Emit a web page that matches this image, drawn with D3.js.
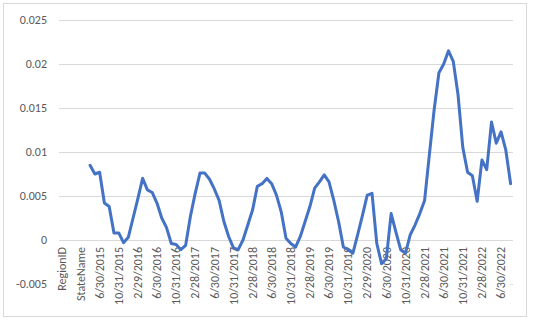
<!DOCTYPE html>
<html><head><meta charset="utf-8">
<script src="https://cdn.jsdelivr.net/npm/d3@7"></script>
<style>html,body{margin:0;padding:0;background:#fff;}svg{display:block;}</style>
</head><body>
<svg id="chart" width="534" height="325"></svg>
<script>
// Categories: header columns followed by month-end dates
const headerCats = ["RegionID", "SizeRank", "RegionName", "RegionType", "StateName"];
const dateCats = [
  "3/31/2015","4/30/2015","5/31/2015","6/30/2015","7/31/2015","8/31/2015","9/30/2015","10/31/2015","11/30/2015","12/31/2015",
  "1/31/2016","2/29/2016","3/31/2016","4/30/2016","5/31/2016","6/30/2016","7/31/2016","8/31/2016","9/30/2016","10/31/2016","11/30/2016","12/31/2016",
  "1/31/2017","2/28/2017","3/31/2017","4/30/2017","5/31/2017","6/30/2017","7/31/2017","8/31/2017","9/30/2017","10/31/2017","11/30/2017","12/31/2017",
  "1/31/2018","2/28/2018","3/31/2018","4/30/2018","5/31/2018","6/30/2018","7/31/2018","8/31/2018","9/30/2018","10/31/2018","11/30/2018","12/31/2018",
  "1/31/2019","2/28/2019","3/31/2019","4/30/2019","5/31/2019","6/30/2019","7/31/2019","8/31/2019","9/30/2019","10/31/2019","11/30/2019","12/31/2019",
  "1/31/2020","2/29/2020","3/31/2020","4/30/2020","5/31/2020","6/30/2020","7/31/2020","8/31/2020","9/30/2020","10/31/2020","11/30/2020","12/31/2020",
  "1/31/2021","2/28/2021","3/31/2021","4/30/2021","5/31/2021","6/30/2021","7/31/2021","8/31/2021","9/30/2021","10/31/2021","11/30/2021","12/31/2021",
  "1/31/2022","2/28/2022","3/31/2022","4/30/2022","5/31/2022","6/30/2022","7/31/2022","8/31/2022"
];
const categories = headerCats.concat(dateCats);

// Series values (null where no value is plotted)
const values = [
  null, null, null, null, null, null,
  0.0085, 0.0075, 0.0077, 0.0042, 0.0038, 0.0008, 0.0008, -0.0003, 0.0003,
  0.0025, 0.0047, 0.0070, 0.0057, 0.0054, 0.0042, 0.0025, 0.0014, -0.0004, -0.0005, -0.0011, -0.0006,
  0.0027, 0.0053, 0.0076, 0.0076, 0.0069, 0.0058, 0.0045, 0.0021, 0.0004, -0.0009, -0.0011, 0.0000,
  0.0017, 0.0034, 0.0061, 0.0064, 0.0070, 0.0064, 0.0051, 0.0032, 0.0002, -0.0004, -0.0008, 0.0004,
  0.0021, 0.0038, 0.0059, 0.0066, 0.0074, 0.0066, 0.0045, 0.0021, -0.0008, -0.0011, -0.0015, 0.0006,
  0.0028, 0.0051, 0.0053, -0.0004, -0.0027, -0.0021, 0.0030, 0.0009, -0.0011, -0.0015, 0.0006, 0.0017,
  0.0030, 0.0045, 0.0097, 0.0148, 0.0190, 0.0200, 0.0215, 0.0203, 0.0165, 0.0105, 0.0077, 0.0073,
  0.0044, 0.0091, 0.0080, 0.0134, 0.0110, 0.0123, 0.0102, 0.0064
];

const yTicks = [-0.005, 0, 0.005, 0.01, 0.015, 0.02, 0.025];
const labelEvery = 4;

const svg = d3.select("#chart");
const W = 534, H = 325;
const plot = {left: 59, right: 513, top: 20, bottom: 284};
const font = "Calibri, Carlito, Lato, 'Open Sans', sans-serif";
const textColor = "#595959";
const gridColor = "#d9d9d9";

// chart area border
svg.append("rect").attr("x", 3.5).attr("y", 3.5).attr("width", 523).attr("height", 313)
  .attr("fill", "#fff").attr("stroke", gridColor).attr("stroke-width", 1);

const x = d3.scaleBand().domain(categories).range([plot.left, plot.right]).padding(0);
const y = d3.scaleLinear().domain([yTicks[0], yTicks[yTicks.length - 1]]).range([plot.bottom, plot.top]);
const fmt = d => String(+d.toFixed(3));

// gridlines
const yAxis = d3.axisLeft(y).tickValues(yTicks).tickSize(-(plot.right - plot.left)).tickPadding(12).tickFormat(fmt);
const gy = svg.append("g").attr("transform", `translate(${plot.left},0)`).call(yAxis);
gy.select(".domain").remove();
gy.selectAll(".tick line").attr("stroke", gridColor).attr("stroke-width", 1);
gy.selectAll(".tick text").attr("fill", textColor).style("font-family", font).style("font-size", "12px");

// x labels (rotated), with white backing over the lower grid line
const gx = svg.append("g");
const labelCats = categories.filter((c, i) => i % labelEvery === 0);
const bg = gx.append("rect").attr("fill", "#fff");
const labels = gx.selectAll("text").data(labelCats).join("text")
  .attr("transform", d => `translate(${x(d) + x.bandwidth() / 2},${y(0) + 7}) rotate(-90)`)
  .attr("text-anchor", "end").attr("dy", "0.35em")
  .attr("fill", textColor).style("font-family", font).style("font-size", "12px")
  .text(d => d);
const bb = gx.node().getBBox();
bg.attr("x", plot.left + 1).attr("y", y(0) + 3).attr("width", bb.x + bb.width - plot.left + 1).attr("height", bb.height + 2);

// line
const pts = categories.map((c, i) => ({c, v: values[i]}));
const line = d3.line().defined(d => d.v !== null)
  .x(d => x(d.c) + x.bandwidth() / 2).y(d => y(d.v));
svg.append("path").datum(pts).attr("d", line)
  .attr("fill", "none").attr("stroke", "#4472C4").attr("stroke-width", 3)
  .attr("stroke-linejoin", "round").attr("stroke-linecap", "round");
</script>
</body></html>
